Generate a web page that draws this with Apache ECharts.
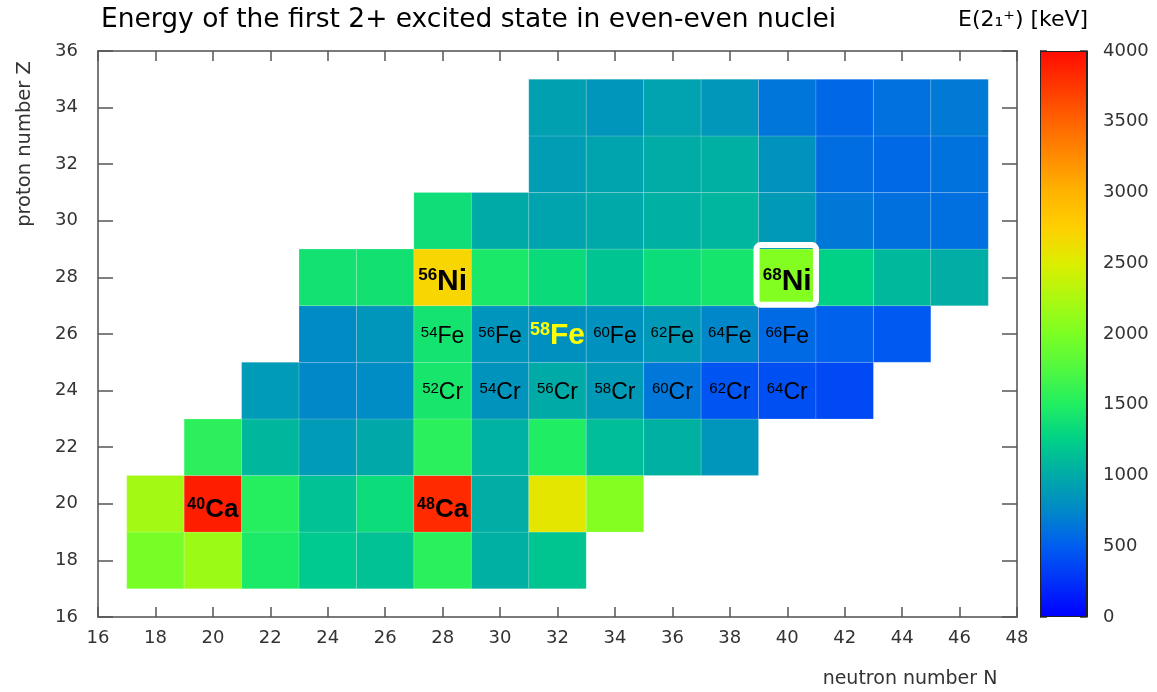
<!DOCTYPE html>
<html>
<head>
<meta charset="utf-8">
<script src="https://cdn.jsdelivr.net/npm/echarts@6/dist/echarts.min.js"></script>
<style>
  html, body { margin: 0; padding: 0; background: #ffffff; }
  #chart { width: 1157px; height: 692px; }
</style>
</head>
<body>
<div id="chart"></div>
<script>
// Energy of the first 2+ state, E(2+_1) in keV, for even-even nuclei.
// One row per element; each row starts at firstNeutron and steps by 2 neutrons.
const elements      = ['Ar', 'Ca', 'Ti', 'Cr', 'Fe', 'Ni', 'Zn', 'Ge', 'Se'];
const protonNumbers = [18, 20, 22, 24, 26, 28, 30, 32, 34];
const firstNeutron  = [18, 18, 20, 22, 24, 24, 28, 32, 32];

const energyAr = [1970, 2168, 1461, 1208, 1158, 1554, 1038, 1178];
const energyCa = [2206, 3904, 1525, 1157, 1346, 3832, 1027, 2563, 2043];
const energyTi = [1555, 1083, 889, 984, 1554, 1050, 1495, 1129, 1047, 850];
const energyCr = [892, 752, 783, 1434, 835, 1007, 880, 646, 446, 420, 386];
const energyFe = [765, 849, 1408, 847, 811, 824, 877, 746, 573, 522, 480];
const energyNi = [1397, 1392, 2701, 1454, 1333, 1173, 1346, 1425, 2033, 1260, 1096, 1024];
const energyZn = [1356, 1004, 954, 992, 1039, 1077, 885, 653, 606, 599];
const energyGe = [902, 957, 1016, 1040, 834, 596, 563, 619];
const energySe = [929, 854, 945, 862, 635, 559, 614, 666];

const energyRows = [energyAr, energyCa, energyTi, energyCr, energyFe, energyNi, energyZn, energyGe, energySe];

// Nuclides named inside their cells (mass number + symbol)
const namedNuclides = [
  '40Ca', '48Ca', '56Ni', '68Ni',
  '54Fe', '56Fe', '58Fe', '60Fe', '62Fe', '64Fe', '66Fe',
  '52Cr', '54Cr', '56Cr', '58Cr', '60Cr', '62Cr', '64Cr'
];

// Axis ranges
const neutronRange = [16, 48];
const protonRange  = [16, 36];
const axisStep     = 2;
const energyRange  = [0, 4000];
const energyStep   = 500;

// Colour scale from 0 keV to 4000 keV, evenly spaced stops
const energyPalette = [
  '#0000ff', '#0030f8', '#005ef0', '#0088c8', '#00aaa8', '#00d088', '#20ee62',
  '#50f840', '#7cff24', '#acf810', '#dcee00', '#ffd000', '#ffb400', '#ff8c00',
  '#ff6400', '#ff3800', '#ff0c00'
];

// ---- build series data ----
const cells = [];
energyRows.forEach((row, i) => {
  row.forEach((e, j) => {
    cells.push([firstNeutron[i] + axisStep * j, protonNumbers[i], e]);
  });
});

const labels = namedNuclides.map(name => {
  const A = parseInt(name, 10);
  const sym = name.replace(/^\d+/, '');
  const Z = protonNumbers[elements.indexOf(sym)];
  return [A - Z, Z, A, sym];
});

// ---- label styling ----
const labelFont = '"Liberation Sans", Arial, sans-serif';
const labelLook = {
  Ca: { sup: 16, main: 26, weight: 'bold', color: '#000000', dy: 6 },
  Ni: { sup: 17, main: 30, weight: 'bold', color: '#000000', dy: 4 },
  Fe: { sup: 15, main: 23, weight: 'normal', color: '#000000', dy: 3 },
  Cr: { sup: 15, main: 23, weight: 'normal', color: '#000000', dy: 2 },
  accent: { sup: 18, main: 30, weight: 'bold', color: '#ffff00', dy: 2 }
};
const accentNuclide = '58Fe';
const framedNuclide = '68Ni';

const rich = {};
Object.keys(labelLook).forEach(k => {
  const l = labelLook[k];
  rich[k + 's'] = { fontSize: l.sup, fontWeight: l.weight, fill: l.color, fontFamily: labelFont, verticalAlign: 'top', lineHeight: l.main };
  rich[k + 'm'] = { fontSize: l.main, fontWeight: l.weight, fill: l.color, fontFamily: labelFont, verticalAlign: 'middle', lineHeight: l.main };
});

function renderCell(params, api) {
  const c = api.coord([api.value(0), api.value(1)]);
  const s = api.size([axisStep, axisStep]);
  return {
    type: 'rect',
    shape: { x: c[0] - s[0] / 2, y: c[1] - s[1] / 2, width: s[0], height: s[1] },
    style: { fill: api.visual('color'), stroke: 'rgba(255,255,255,0.16)', lineWidth: 1 }
  };
}

function renderLabel(params, api) {
  const item = labels[params.dataIndex];
  const name = item[2] + item[3];
  const c = api.coord([item[0], item[1]]);
  const s = api.size([axisStep, axisStep]);
  const key = name === accentNuclide ? 'accent' : item[3];
  const children = [];
  if (name === framedNuclide) {
    children.push({
      type: 'rect',
      shape: { x: c[0] - s[0] / 2 - 2, y: c[1] - s[1] / 2 - 4, width: s[0] + 2, height: s[1] + 3, r: 4 },
      style: { fill: null, stroke: '#ffffff', lineWidth: 6 }
    });
  }
  children.push({
    type: 'text',
    x: c[0],
    y: c[1] + labelLook[key].dy,
    style: {
      text: '{' + key + 's|' + item[2] + '}{' + key + 'm|' + item[3] + '}',
      rich: rich,
      align: 'center',
      verticalAlign: 'middle'
    }
  });
  return { type: 'group', children: children };
}

// ---- colour bar gradient ----
const gradientStops = energyPalette.map((col, i) => ({ offset: i / (energyPalette.length - 1), color: col }));

const tickFont = { fontFamily: '"DejaVu Sans", sans-serif', fontSize: 18, color: '#333333' };
const frameLine = { show: true, lineStyle: { color: '#7a7a7a', width: 2 } };

function mainXAxis(position, showLabel) {
  return {
    type: 'value', gridIndex: 0, position: position,
    min: neutronRange[0], max: neutronRange[1], interval: axisStep,
    axisLine: frameLine,
    axisTick: { show: true, inside: true, length: 10, lineStyle: { color: '#555555', width: 1.5 } },
    axisLabel: Object.assign({ show: showLabel, margin: 12 }, tickFont),
    splitLine: { show: false }
  };
}
function mainYAxis(position, showLabel) {
  return {
    type: 'value', gridIndex: 0, position: position,
    min: protonRange[0], max: protonRange[1], interval: axisStep,
    axisLine: frameLine,
    axisTick: { show: true, inside: true, length: 15, lineStyle: { color: '#555555', width: 1.5 } },
    axisLabel: Object.assign({ show: showLabel, margin: 20 }, tickFont),
    splitLine: { show: false }
  };
}
function barYAxis(position, showLabel) {
  return {
    type: 'value', gridIndex: 1, position: position,
    min: energyRange[0], max: energyRange[1], interval: energyStep,
    axisLine: { show: true, lineStyle: { color: '#222222', width: 1 } },
    axisTick: { show: true, inside: true, length: 7, lineStyle: { color: '#333333', width: 1.5 } },
    axisLabel: Object.assign({ show: showLabel, margin: 16, formatter: v => String(v) }, tickFont),
    splitLine: { show: false }
  };
}

const chart = echarts.init(document.getElementById('chart'), null, { renderer: 'canvas' });

chart.setOption({
  backgroundColor: '#ffffff',
  animation: false,
  title: [
    {
      text: 'Energy of the first 2+ excited state in even-even nuclei',
      left: 96, top: 2,
      textStyle: { fontFamily: '"DejaVu Sans", sans-serif', fontSize: 26.5, fontWeight: 'normal', color: '#000000' }
    },
    {
      text: 'E(2₁⁺) [keV]',
      left: 953, top: 4,
      textStyle: { fontFamily: '"DejaVu Sans", sans-serif', fontSize: 22, fontWeight: 'normal', color: '#000000' }
    }
  ],
  graphic: [
    {
      type: 'text', x: 25, y: 144, rotation: Math.PI / 2,
      style: { text: 'proton number Z', fontFamily: '"DejaVu Sans", sans-serif', fontSize: 19.5, fill: '#333333', align: 'center', verticalAlign: 'middle' }
    },
    {
      type: 'text', x: 910, y: 679,
      style: { text: 'neutron number N', fontFamily: '"DejaVu Sans", sans-serif', fontSize: 19, fill: '#333333', align: 'center', verticalAlign: 'middle' }
    }
  ],
  grid: [
    { left: 98, top: 51, right: 140, bottom: 75 },
    { left: 1040, top: 51, width: 47, bottom: 75 }
  ],
  xAxis: [
    mainXAxis('bottom', true),
    mainXAxis('top', false),
    { type: 'category', gridIndex: 1, data: [''], show: false }
  ],
  yAxis: [
    mainYAxis('left', true),
    mainYAxis('right', false),
    barYAxis('right', true),
    barYAxis('left', false)
  ],
  visualMap: {
    type: 'continuous',
    show: false,
    seriesIndex: 0,
    dimension: 2,
    min: energyRange[0],
    max: energyRange[1],
    inRange: { color: energyPalette }
  },
  series: [
    {
      type: 'custom',
      xAxisIndex: 0, yAxisIndex: 0,
      renderItem: renderCell,
      encode: { x: 0, y: 1 },
      data: cells,
      z: 2
    },
    {
      type: 'custom',
      xAxisIndex: 0, yAxisIndex: 0,
      renderItem: renderLabel,
      encode: { x: 0, y: 1 },
      data: labels,
      z: 3
    },
    {
      type: 'bar',
      xAxisIndex: 2, yAxisIndex: 2,
      barWidth: '100%',
      data: [energyRange[1]],
      itemStyle: {
        color: new echarts.graphic.LinearGradient(0, 1, 0, 0, gradientStops),
        borderColor: '#222222',
        borderWidth: 1
      },
      silent: true,
      z: 2
    }
  ]
});
</script>
</body>
</html>
